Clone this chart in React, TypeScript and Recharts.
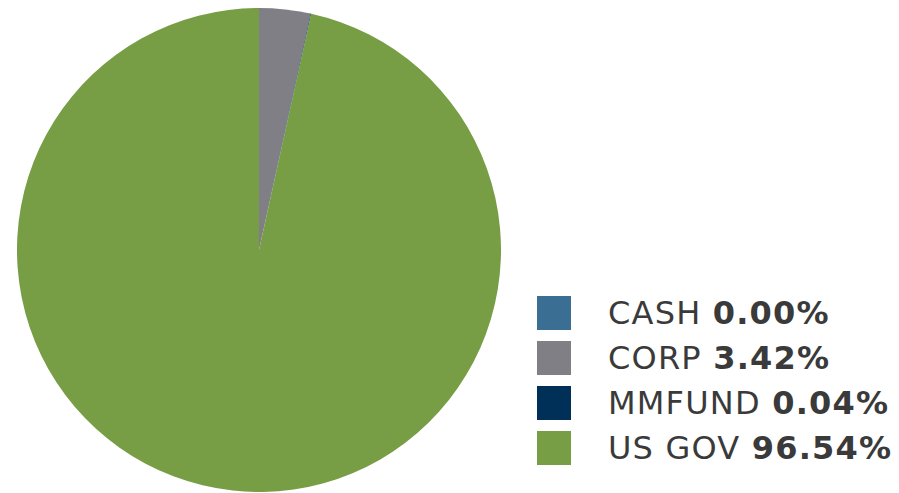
import { PieChart, Pie, Cell, Legend } from "recharts";

const categories = ["CASH", "CORP", "MMFUND", "US GOV"];
const shares = [0.0, 3.42, 0.04, 96.54];
const colors = ["#3a6e92", "#7f7f85", "#003057", "#779d45"];

const data = categories.map((name, i) => ({ name, value: shares[i] }));

const renderLegend = () => (
  <div
    style={{
      fontFamily: "'DejaVu Sans', Verdana, sans-serif",
      fontSize: 32,
      letterSpacing: 1.2,
      color: "#3a3a3a",
    }}
  >
    {data.map((d, i) => (
      <div key={d.name} style={{ display: "flex", alignItems: "center", height: 45 }}>
        <div style={{ width: 34, height: 34, background: colors[i], marginRight: 37, flexShrink: 0 }} />
        <span style={{ whiteSpace: "nowrap" }}>
          {d.name} <b>{d.value.toFixed(2)}%</b>
        </span>
      </div>
    ))}
  </div>
);

export default function App() {
  return (
    <div style={{ position: "absolute", left: 0, top: 0, width: 899, height: 493, background: "#fff" }}>
      <PieChart width={899} height={493} margin={{ top: 0, right: 0, bottom: 0, left: 0 }}>
        <Pie
          data={data}
          dataKey="value"
          nameKey="name"
          cx={259}
          cy={250}
          outerRadius={242}
          startAngle={90}
          endAngle={-270}
          stroke="none"
          isAnimationActive={false}
        >
          {data.map((d, i) => (
            <Cell key={d.name} fill={colors[i]} />
          ))}
        </Pie>
        <Legend
          content={renderLegend}
          layout="vertical"
          wrapperStyle={{ position: "absolute", left: 537, top: 290, width: 362 }}
        />
      </PieChart>
    </div>
  );
}
